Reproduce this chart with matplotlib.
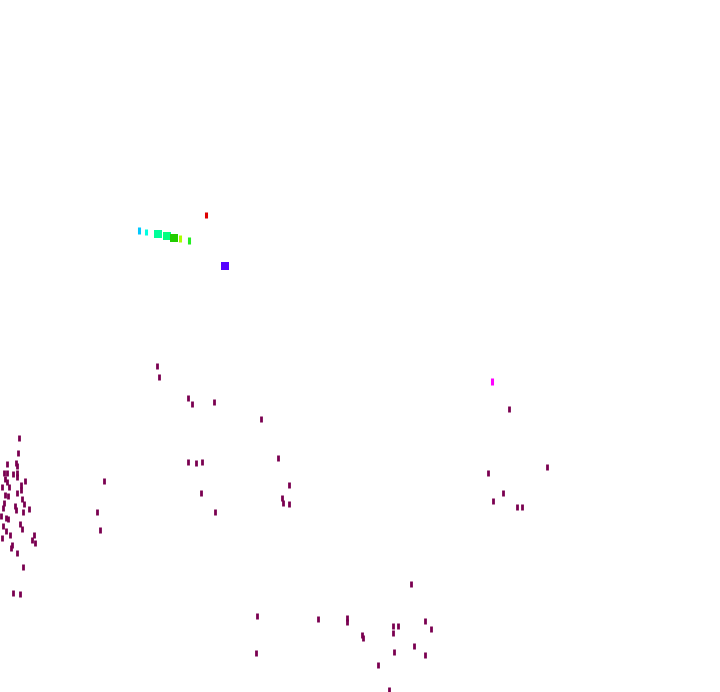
import matplotlib
matplotlib.use("Agg")
import matplotlib.pyplot as plt

# Colourful group (x, y, colour)
hue_x = [205.7, 138.7, 146.3, 157.7, 167.0, 174.3, 180.3, 189.3, 225.3, 492.0]
hue_y = [215.0, 230.7, 232.0, 234.3, 236.0, 237.7, 238.7, 240.3, 266.0, 381.7]
hue_c = ["#dd0000", "#00c8ff", "#00ffe0", "#00ff99", "#00ff80", "#22cc00",
         "#aaff00", "#22ee22", "#5500ff", "#ff00ff"]
hue_big = [False, False, False, True, True, True, False, False, True, False]

# Maroon group
pts_x = [156.7, 159.3, 188.3, 192.3, 214.3, 260.7, 187.7, 195.7, 202.3, 277.7,
         288.7, 200.7, 282.0, 283.3, 288.7, 215.0,
         509.0, 547.0, 488.0, 503.0, 493.0, 517.0, 522.0,
         410.7, 257.0, 318.0, 346.7, 347.3, 393.0, 397.7, 425.0, 431.0, 361.7,
         362.7, 393.0, 255.7, 394.0, 414.0, 425.3, 378.3, 389.0,
         18.7, 18.3, 7.3, 16.0, 17.3, 4.0, 7.3, 12.7, 16.7, 5.0, 6.7, 17.3,
         24.7, 21.0, 1.7, 9.3,
         5.0, 8.0, 17.3, 21.3, 4.3, 3.3, 15.0, 22.3, 24.3, 16.3, 22.7, 28.7,
         1.0, 6.0, 8.3, 3.0, 19.7, 22.0, 5.7, 9.7, 2.0, 33.7, 32.0, 34.7, 12.3,
         11.0, 16.7, 23.0, 12.7, 20.0,
         103.7, 96.7, 100.3]
pts_y = [366.0, 377.3, 397.7, 403.7, 402.0, 419.0, 462.3, 463.3, 461.7, 457.7,
         485.0, 493.3, 498.3, 503.3, 503.7, 511.7,
         409.3, 467.0, 473.0, 492.7, 501.0, 507.3, 507.3,
         584.3, 615.7, 619.0, 618.3, 622.0, 626.0, 625.7, 620.7, 629.0, 634.7,
         638.0, 633.3, 652.7, 651.7, 646.3, 654.7, 665.3, 690.3,
         438.3, 452.7, 464.3, 463.3, 466.0, 472.7, 473.3, 474.3, 473.3, 479.3,
         481.7, 476.7, 481.0, 485.0, 486.7, 487.3,
         494.7, 496.3, 493.0, 489.7, 503.0, 508.0, 506.3, 498.7, 503.7, 510.3,
         512.0, 508.7, 516.3, 518.0, 518.7, 525.7, 524.0, 528.7, 530.7, 535.3,
         538.0, 535.3, 539.7, 543.0, 545.3,
         547.7, 553.3, 566.7, 592.7, 594.0,
         481.3, 511.7, 530.0]
pts_color = "#7a0050"

fig = plt.figure(figsize=(7.2, 6.92), dpi=100)
ax = fig.add_axes([0, 0, 1, 1])
ax.set_xlim(0, 720)
ax.set_ylim(692, 0)
ax.axis("off")

ax.scatter(pts_x, pts_y, marker="|", s=22, linewidths=2.0, c=pts_color)
small_x = [x for x, b in zip(hue_x, hue_big) if not b]
small_y = [y for y, b in zip(hue_y, hue_big) if not b]
small_c = [c for c, b in zip(hue_c, hue_big) if not b]
big_x = [x for x, b in zip(hue_x, hue_big) if b]
big_y = [y for y, b in zip(hue_y, hue_big) if b]
big_c = [c for c, b in zip(hue_c, hue_big) if b]
ax.scatter(small_x, small_y, marker="|", s=22, linewidths=2.2, c=small_c)
ax.scatter(big_x, big_y, marker="s", s=30, linewidths=0, c=big_c)

fig.savefig("out.png", dpi=100)
